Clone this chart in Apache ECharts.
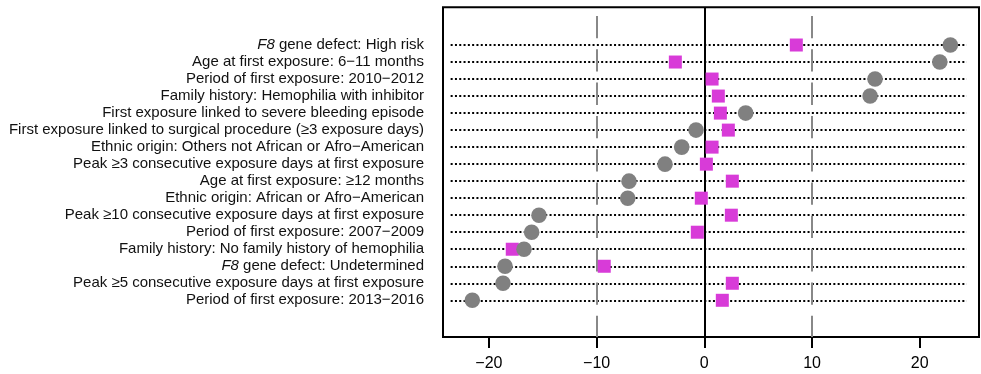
<!DOCTYPE html>
<html>
<head>
<meta charset="utf-8">
<script src="https://cdn.jsdelivr.net/npm/echarts@6/dist/echarts.min.js"></script>
<style>
  html, body { margin: 0; padding: 0; background: #fff; }
  #chart { width: 981px; height: 374px; }
</style>
</head>
<body>
<div id="chart"></div>
<script>
// rows, top to bottom
const categories = [
  '{i|F8} gene defect: High risk',
  'Age at first exposure: 6\u221211 months',
  'Period of first exposure: 2010\u22122012',
  'Family history: Hemophilia with inhibitor',
  'First exposure linked to severe bleeding episode',
  'First exposure linked to surgical procedure (\u22653 exposure days)',
  'Ethnic origin: Others not African or Afro\u2212American',
  'Peak \u22653 consecutive exposure days at first exposure',
  'Age at first exposure: \u226512 months',
  'Ethnic origin: African or Afro\u2212American',
  'Peak \u226510 consecutive exposure days at first exposure',
  'Period of first exposure: 2007\u22122009',
  'Family history: No family history of hemophilia',
  '{i|F8} gene defect: Undetermined',
  'Peak \u22655 consecutive exposure days at first exposure',
  'Period of first exposure: 2013\u22122016'
];
const circleValues = [22.84, 21.86, 15.85, 15.39, 3.84, -0.77, -2.10, -3.65, -6.99, -7.11, -15.35, -16.03, -16.74, -18.50, -18.69, -21.54];
const squareValues = [8.54, -2.69, 0.72, 1.30, 1.49, 2.23, 0.72, 0.19, 2.60, -0.28, 2.51, -0.65, -17.83, -9.29, 2.60, 1.67];
const xTicks = [-20, -10, 0, 10, 20];
const refLines = [-10, 0, 10];

const xMin = -24.26, xMax = 25.5;
const dotFrom = -23.55, dotTo = 24.36;

const chart = echarts.init(document.getElementById('chart'));

const fmtMinus = v => (v < 0 ? '\u2212' + Math.abs(v) : String(v));

chart.setOption({
  animation: false,
  grid: [
    {left: 443, right: 2, top: 36.5, bottom: 65.2},
    {left: 443, right: 2, top: 7.3, bottom: 37, show: true, borderColor: '#000', borderWidth: 2, backgroundColor: 'transparent'}
  ],
  xAxis: [
    {gridIndex: 0, type: 'value', min: xMin, max: xMax, show: false},
    {
      gridIndex: 1, type: 'value', min: xMin, max: xMax,
      axisLine: {show: false},
      splitLine: {show: false},
      axisTick: {show: true, customValues: xTicks, length: 11, lineStyle: {color: '#000', width: 2}},
      axisLabel: {
        customValues: xTicks, margin: 19, fontSize: 16, color: '#000',
        fontFamily: 'Liberation Sans', formatter: fmtMinus
      }
    }
  ],
  yAxis: [
    {
      gridIndex: 0, type: 'category', data: categories, inverse: true,
      axisLine: {show: false}, axisTick: {show: false}, splitLine: {show: false},
      axisLabel: {
        interval: 0, hideOverlap: false,
        margin: 19, fontSize: 15, color: '#111', fontFamily: 'Liberation Sans',
        rich: {i: {fontStyle: 'italic', fontSize: 15, color: '#111', fontFamily: 'Liberation Sans'}}
      }
    },
    {gridIndex: 1, type: 'value', min: 0, max: 1, show: false}
  ],
  series: [
    {
      // dotted row guides
      type: 'scatter', xAxisIndex: 0, yAxisIndex: 0, data: [], z: 1,
      markLine: {
        silent: true, symbol: 'none', label: {show: false}, z: 1,
        lineStyle: {color: '#000', width: 2, type: [2, 2.3], opacity: 1},
        data: categories.map(c => [{coord: [dotFrom, c]}, {coord: [dotTo, c]}])
      }
    },
    {
      // reference lines at -10, 0, 10
      type: 'scatter', xAxisIndex: 1, yAxisIndex: 1, data: [], z: 1,
      markLine: {
        silent: true, symbol: 'none', label: {show: false}, z: 2,
        data: refLines.map(v => v === 0
          ? {xAxis: v, lineStyle: {color: '#000', width: 2, type: 'solid'}}
          : {xAxis: v, lineStyle: {color: '#888', width: 2, type: [22.3, 11], dashOffset: 1}})
      }
    },
    {
      name: 'square', type: 'scatter', xAxisIndex: 0, yAxisIndex: 0, z: 10,
      symbol: 'rect', symbolSize: 13,
      itemStyle: {color: '#d83bd8', opacity: 1},
      data: squareValues.map((v, i) => [v, categories[i]])
    },
    {
      name: 'circle', type: 'scatter', xAxisIndex: 0, yAxisIndex: 0, z: 11,
      symbol: 'circle', symbolSize: 15.6,
      itemStyle: {color: '#808080', opacity: 1},
      data: circleValues.map((v, i) => [v, categories[i]])
    }
  ]
});
</script>
</body>
</html>
